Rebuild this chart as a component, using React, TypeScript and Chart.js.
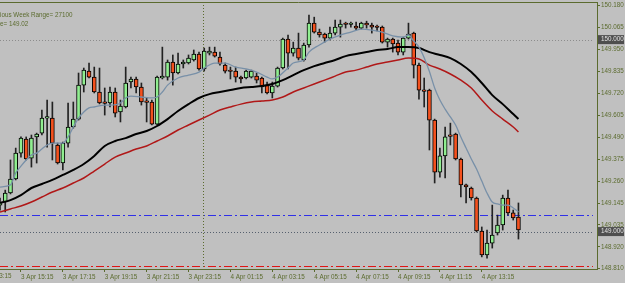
import React, { useEffect, useRef } from 'react';
import { Chart, registerables } from 'chart.js';

Chart.register(...registerables);

// ---- categories (15-minute bars starting 3 Apr 14:15) ----
const START_DAY = 3;
const START_MINUTE = 14 * 60 + 15;
const BAR_MINUTES = 15;
const SLOT_COUNT = 115; // 100 bars + empty space on the right

// ---- OHLC values ----
const opens = [
  149.138, 149.154, 149.201, 149.274, 149.409, 149.482, 149.383, 149.493, 149.513, 149.591,
  149.591, 149.451, 149.357, 149.461, 149.545, 149.586, 149.763, 149.836, 149.805, 149.727,
  149.670, 149.670, 149.727, 149.623, 149.649, 149.779, 149.795, 149.753, 149.675, 149.675,
  149.560, 149.800, 149.805, 149.883, 149.826, 149.873, 149.878, 149.894, 149.925, 149.847,
  149.930, 149.935, 149.909, 149.867, 149.836, 149.836, 149.805, 149.800, 149.805, 149.810,
  149.800, 149.763, 149.722, 149.758, 149.852, 150.003, 149.930, 149.956, 149.894, 149.972,
  150.086, 150.039, 150.029, 150.008, 150.034, 150.065, 150.081, 150.079, 150.071, 150.060,
  150.086, 150.076, 150.065, 150.065, 149.987, 150.003, 149.982, 149.935, 150.008, 150.034,
  149.867, 149.732, 149.737, 149.581, 149.310, 149.394, 149.498, 149.508, 149.378, 149.243,
  149.227, 149.175, 149.003, 148.878, 148.940, 148.993, 149.034, 149.175, 149.097, 149.076,
];
const highs = [
  149.175, 149.216, 149.373, 149.435, 149.493, 149.493, 149.503, 149.513, 149.633, 149.685,
  149.675, 149.461, 149.466, 149.670, 149.675, 149.826, 149.852, 149.878, 149.857, 149.852,
  149.748, 149.753, 149.748, 149.685, 149.857, 149.805, 149.805, 149.774, 149.696, 149.685,
  149.810, 149.961, 149.894, 149.920, 149.930, 149.894, 149.920, 149.946, 149.935, 149.956,
  149.961, 149.961, 149.935, 149.878, 149.857, 149.857, 149.810, 149.841, 149.841, 149.826,
  149.805, 149.779, 149.779, 149.857, 150.008, 150.024, 149.987, 150.034, 149.982, 150.128,
  150.117, 150.055, 150.034, 150.065, 150.102, 150.102, 150.091, 150.091, 150.091, 150.091,
  150.096, 150.086, 150.076, 150.071, 150.008, 150.008, 149.998, 150.013, 150.086, 150.039,
  149.878, 149.800, 149.742, 149.586, 149.435, 149.545, 149.565, 149.513, 149.383, 149.248,
  149.232, 149.180, 149.024, 149.008, 149.138, 149.086, 149.190, 149.216, 149.112, 149.149,
];
const lows = [
  149.112, 149.102, 149.196, 149.269, 149.388, 149.373, 149.336, 149.357, 149.503, 149.440,
  149.373, 149.352, 149.321, 149.440, 149.539, 149.581, 149.727, 149.800, 149.722, 149.665,
  149.607, 149.649, 149.597, 149.571, 149.644, 149.748, 149.722, 149.659, 149.571, 149.555,
  149.555, 149.795, 149.789, 149.763, 149.821, 149.852, 149.873, 149.888, 149.841, 149.836,
  149.920, 149.909, 149.867, 149.826, 149.795, 149.779, 149.774, 149.795, 149.800, 149.774,
  149.722, 149.717, 149.696, 149.753, 149.847, 149.847, 149.914, 149.894, 149.888, 149.961,
  150.034, 150.013, 149.987, 149.998, 150.024, 150.013, 150.060, 150.065, 150.050, 150.055,
  150.060, 150.034, 150.045, 149.982, 149.961, 149.935, 149.920, 149.920, 150.003, 149.800,
  149.690, 149.649, 149.425, 149.253, 149.284, 149.279, 149.451, 149.373, 149.180, 149.149,
  149.164, 148.998, 148.868, 148.862, 148.914, 148.982, 149.008, 149.086, 149.060, 148.961,
];
const closes = [
  149.154, 149.201, 149.274, 149.409, 149.487, 149.378, 149.487, 149.508, 149.591, 149.593,
  149.461, 149.357, 149.461, 149.545, 149.586, 149.763, 149.841, 149.805, 149.727, 149.670,
  149.668, 149.727, 149.617, 149.654, 149.774, 149.795, 149.753, 149.675, 149.673, 149.560,
  149.805, 149.810, 149.883, 149.826, 149.873, 149.883, 149.904, 149.925, 149.847, 149.940,
  149.940, 149.914, 149.873, 149.836, 149.834, 149.805, 149.795, 149.836, 149.836, 149.789,
  149.753, 149.722, 149.758, 149.852, 150.003, 149.930, 149.956, 149.904, 149.972, 150.086,
  150.039, 150.024, 150.008, 150.034, 150.065, 150.081, 150.079, 150.081, 150.060, 150.086,
  150.076, 150.065, 150.063, 149.987, 150.003, 149.977, 149.935, 150.008, 150.029, 149.867,
  149.737, 149.730, 149.581, 149.310, 149.394, 149.493, 149.496, 149.378, 149.243, 149.232,
  149.175, 149.003, 148.878, 148.940, 148.982, 149.034, 149.175, 149.097, 149.071, 149.008,
];

// ---- moving averages: [bar index, price] ----
const fastMa: [number, number][] = [
  [0, 149.232], [2, 149.243], [3, 149.305], [4, 149.341], [5, 149.373], [6, 149.399], [7, 149.409],
  [8, 149.430], [9, 149.451], [10, 149.461], [12, 149.461], [13, 149.493], [14, 149.545], [15, 149.591],
  [16, 149.623], [17, 149.644], [18, 149.649], [20, 149.659], [21, 149.659], [23, 149.670], [24, 149.696],
  [25, 149.706], [27, 149.701], [29, 149.696], [30, 149.701], [31, 149.727], [32, 149.763], [34, 149.800],
  [36, 149.815], [38, 149.831], [39, 149.852], [41, 149.878], [43, 149.878], [45, 149.857], [47, 149.847],
  [49, 149.831], [51, 149.805], [52, 149.795], [53, 149.805], [55, 149.852], [56, 149.878], [58, 149.894],
  [59, 149.935], [61, 149.972], [63, 150.003], [65, 150.024], [67, 150.039], [69, 150.055], [71, 150.050],
  [73, 150.039], [75, 150.019], [77, 150.013], [78, 150.024], [79, 149.993], [80, 149.961], [81, 149.906],
  [82, 149.834], [83, 149.748], [84, 149.685], [85, 149.638], [86, 149.597], [87, 149.555], [88, 149.493],
  [89, 149.435], [90, 149.378], [91, 149.326], [92, 149.263], [93, 149.201], [94, 149.154], [95, 149.144],
  [96, 149.138], [97, 149.138], [98, 149.123], [99, 149.102],
];
const midMa: [number, number][] = [
  [0, 149.149], [2, 149.164], [4, 149.190], [6, 149.227], [8, 149.248], [10, 149.269], [12, 149.295],
  [14, 149.321], [16, 149.352], [18, 149.394], [20, 149.446], [22, 149.472], [24, 149.487], [26, 149.508],
  [28, 149.524], [30, 149.550], [32, 149.586], [34, 149.628], [36, 149.664], [38, 149.696], [40, 149.716],
  [42, 149.727], [44, 149.737], [46, 149.748], [48, 149.753], [50, 149.758], [52, 149.769], [54, 149.789],
  [56, 149.815], [58, 149.841], [60, 149.862], [62, 149.878], [64, 149.894], [66, 149.914], [68, 149.925],
  [70, 149.935], [72, 149.946], [74, 149.951], [76, 149.961], [78, 149.961], [80, 149.956], [82, 149.935],
  [84, 149.920], [86, 149.904], [88, 149.873], [90, 149.831], [92, 149.774], [94, 149.711], [96, 149.664],
  [98, 149.612], [99, 149.586],
];
const slowMa: [number, number][] = [
  [0, 149.102], [2, 149.118], [4, 149.133], [6, 149.154], [8, 149.180], [10, 149.206], [12, 149.227],
  [14, 149.253], [16, 149.279], [18, 149.315], [20, 149.352], [22, 149.388], [24, 149.409], [26, 149.430],
  [28, 149.446], [30, 149.472], [32, 149.498], [34, 149.529], [36, 149.555], [38, 149.581], [40, 149.607],
  [42, 149.633], [44, 149.649], [46, 149.664], [48, 149.675], [50, 149.680], [52, 149.685], [54, 149.701],
  [56, 149.727], [58, 149.748], [60, 149.769], [62, 149.789], [64, 149.810], [66, 149.831], [68, 149.841],
  [70, 149.857], [72, 149.873], [74, 149.883], [76, 149.894], [78, 149.904], [80, 149.899], [82, 149.867],
  [84, 149.847], [86, 149.821], [88, 149.789], [90, 149.748], [92, 149.685], [94, 149.628], [96, 149.586],
  [98, 149.545], [99, 149.519],
];

// ---- axis ticks ----
const yTickValues = [150.18, 150.065, 149.95, 149.835, 149.72, 149.605, 149.49, 149.375, 149.26, 149.145, 149.035, 148.92, 148.81];
const xLabelIndices = [4, 12, 20, 28, 36, 44, 52, 60, 68, 76, 84, 92];
const priceMin = 148.805;
const priceMax = 150.196;

// ---- horizontal levels, price markers, separators, info text ----
const levelPrices = [150.0, 149.086, 149.0, 148.823];
const markerPrices = [150.0, 149.0];
const separatorIndices = [39];
const infoLines = ['ious Week Range= 27100', 'e= 149.02'];
const hiddenLeadLabel = '3 Apr 13:15';

// styles
const OLIVE = '#5b6b2e';
const FONT = '"Liberation Sans", Arial, sans-serif';
const FONT_SIZE = 6.3;
const levelStyles = [
  { color: '#8c8c8c', dash: [1, 2], width: 1 },
  { color: '#3030e8', dash: [8, 3, 2, 3], width: 1 },
  { color: '#56606e', dash: [1, 2], width: 1 },
  { color: '#e01414', dash: [8, 3, 2, 3], width: 1 },
];

function makeLabels(): string[] {
  const out: string[] = [];
  for (let i = 0; i < SLOT_COUNT; i++) {
    const t = START_MINUTE + i * BAR_MINUTES;
    const day = START_DAY + Math.floor(t / 1440);
    const m = t % 1440;
    const hh = String(Math.floor(m / 60)).padStart(2, '0');
    const mm = String(m % 60).padStart(2, '0');
    out.push(`${day} Apr ${hh}:${mm}`);
  }
  return out;
}

function toSeries(points: [number, number][]): (number | null)[] {
  const arr: (number | null)[] = new Array(SLOT_COUNT).fill(null);
  points.forEach(([i, v]) => { arr[i] = v; });
  return arr;
}

const decorPlugin = {
  id: 'decor',
  beforeDraw(chart: any) {
    const { ctx, width, height } = chart;
    ctx.save();
    ctx.fillStyle = '#c0c0c0';
    ctx.fillRect(0, 0, width, height);
    ctx.restore();
  },
  beforeDatasetsDraw(chart: any) {
    const { ctx, chartArea } = chart;
    const ys = chart.scales.y;
    const xs = chart.scales.x;
    ctx.save();
    levelPrices.forEach((p, k) => {
      const st = levelStyles[k];
      const y = Math.round(ys.getPixelForValue(p)) + 0.5;
      ctx.strokeStyle = st.color;
      ctx.lineWidth = st.width;
      ctx.setLineDash(st.dash);
      ctx.beginPath();
      ctx.moveTo(chartArea.left, y);
      ctx.lineTo(chartArea.right - 4, y);
      ctx.stroke();
    });
    separatorIndices.forEach((i) => {
      const x = Math.round(xs.getPixelForValue(i)) - 0.5;
      ctx.strokeStyle = OLIVE;
      ctx.setLineDash([1, 2]);
      ctx.beginPath();
      ctx.moveTo(x, chartArea.top);
      ctx.lineTo(x, chartArea.bottom);
      ctx.stroke();
    });
    ctx.restore();
  },
  afterDraw(chart: any) {
    const { ctx, chartArea } = chart;
    const ys = chart.scales.y;
    const xs = chart.scales.x;
    ctx.save();
    // top border
    ctx.strokeStyle = OLIVE;
    ctx.lineWidth = 1;
    ctx.setLineDash([]);
    ctx.beginPath();
    ctx.moveTo(0, Math.round(chartArea.top) + 0.5);
    ctx.lineTo(chartArea.right, Math.round(chartArea.top) + 0.5);
    ctx.stroke();
    // price markers on the axis
    ctx.font = `${FONT_SIZE}px ${FONT}`;
    ctx.textBaseline = 'middle';
    ctx.textAlign = 'left';
    markerPrices.forEach((p) => {
      const y = ys.getPixelForValue(p);
      ctx.fillStyle = '#4e4e4e';
      ctx.fillRect(chartArea.right + 1, y - 4.5, 26, 9);
      ctx.fillStyle = '#e4e4e4';
      ctx.fillText(p.toFixed(3), chartArea.right + 4, y);
    });
    // info text
    ctx.fillStyle = OLIVE;
    infoLines.forEach((t, k) => {
      ctx.fillText(t, 0, 15 + k * 9);
    });
    // partially visible label of the bar before the first one
    const step = xs.getPixelForValue(1) - xs.getPixelForValue(0);
    ctx.textBaseline = 'top';
    ctx.fillText(hiddenLeadLabel, xs.getPixelForValue(0) - 4 * step, chartArea.bottom + 4);
    ctx.restore();
  },
};

export default function App() {
  const ref = useRef<HTMLCanvasElement | null>(null);

  useEffect(() => {
    const canvas = ref.current;
    if (!canvas) return;
    const labels = makeLabels();
    const wickData = opens.map((_, i) => [lows[i], highs[i]]);
    const bodyData = opens.map((o, i) => [o, closes[i]]);
    const bodyColors = opens.map((o, i) => (closes[i] >= o ? '#90ee90' : '#f4511e'));

    const chart = new Chart(canvas, {
      type: 'bar',
      data: {
        labels,
        datasets: [
          {
            type: 'line',
            data: toSeries(fastMa),
            borderColor: '#7890a8',
            borderWidth: 1.3,
            pointRadius: 0,
            spanGaps: true,
            cubicInterpolationMode: 'monotone',
            order: 0,
          } as any,
          {
            type: 'line',
            data: toSeries(midMa),
            borderColor: '#000000',
            borderWidth: 2,
            pointRadius: 0,
            spanGaps: true,
            cubicInterpolationMode: 'monotone',
            order: 1,
          } as any,
          {
            type: 'line',
            data: toSeries(slowMa),
            borderColor: '#b01818',
            borderWidth: 1.5,
            pointRadius: 0,
            spanGaps: true,
            cubicInterpolationMode: 'monotone',
            order: 2,
          } as any,
          {
            type: 'bar',
            data: bodyData,
            backgroundColor: bodyColors,
            borderColor: '#000000',
            borderWidth: 1,
            borderSkipped: false,
            barThickness: 4,
            minBarLength: 1.5,
            grouped: false,
            order: 3,
          } as any,
          {
            type: 'bar',
            data: wickData,
            backgroundColor: '#222222',
            borderWidth: 0,
            barThickness: 1,
            grouped: false,
            order: 4,
          } as any,
        ],
      },
      options: {
        responsive: false,
        animation: false,
        devicePixelRatio: 1,
        events: [],
        layout: { padding: { top: 2, left: 0, right: 0, bottom: 0 } },
        plugins: { legend: { display: false }, tooltip: { enabled: false } },
        scales: {
          x: {
            type: 'category',
            offset: false,
            grid: { display: true, drawOnChartArea: false, drawTicks: true, tickLength: 3, color: OLIVE, offset: false },
            border: { display: true, color: OLIVE },
            ticks: {
              autoSkip: false,
              maxRotation: 0,
              minRotation: 0,
              align: 'start',
              padding: 1,
              color: OLIVE,
              font: { family: FONT, size: FONT_SIZE },
              callback: function (this: any, v: any) { return this.getLabelForValue(v); },
            },
            afterBuildTicks: (scale: any) => { scale.ticks = xLabelIndices.map((i) => ({ value: i })); },
            afterFit: (scale: any) => { scale.height = 14; scale.paddingLeft = 0; scale.paddingRight = 0; },
          },
          y: {
            type: 'linear',
            position: 'right',
            min: priceMin,
            max: priceMax,
            grid: { display: true, drawOnChartArea: false, drawTicks: true, tickLength: 3, color: OLIVE },
            border: { display: true, color: OLIVE },
            ticks: {
              padding: 1,
              color: OLIVE,
              font: { family: FONT, size: FONT_SIZE },
              callback: (v: any) => Number(v).toFixed(3),
            },
            afterBuildTicks: (scale: any) => { scale.ticks = yTickValues.map((v) => ({ value: v })); },
            afterFit: (scale: any) => { scale.width = 28; scale.paddingTop = 0; scale.paddingBottom = 0; },
          },
        },
      } as any,
      plugins: [decorPlugin],
    });
    return () => chart.destroy();
  }, []);

  return (
    <div style={{ position: 'fixed', left: 0, top: 0, width: 625, height: 283, background: '#c0c0c0' }}>
      <canvas ref={ref} width={625} height={283} style={{ display: 'block', width: 625, height: 283 }} />
    </div>
  );
}
